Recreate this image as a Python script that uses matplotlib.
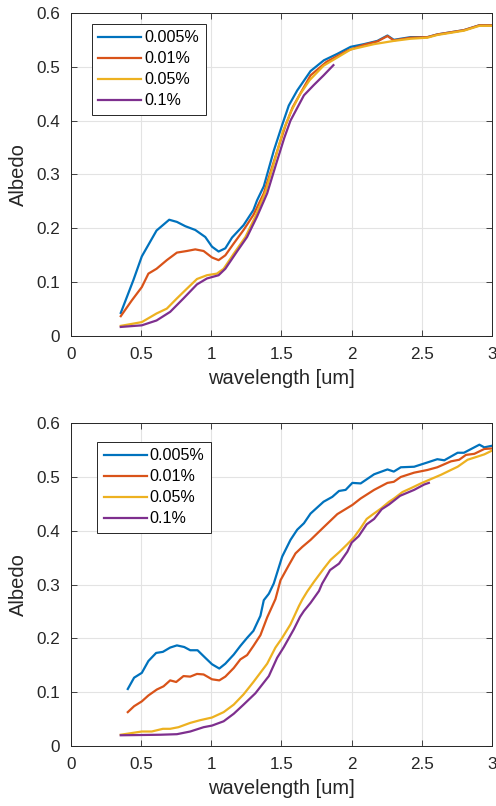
import numpy as np
import matplotlib
matplotlib.use("Agg")
import matplotlib.pyplot as plt

plt.rcParams['font.family'] = ['Liberation Sans', 'DejaVu Sans']

labels = ['0.005%', '0.01%', '0.05%', '0.1%']
colors = ['#0072BD', '#D95319', '#EDB120', '#7E2F8E']

# ---------------------------------------------------------
# Top panel data (wavelength [um], albedo)
# ---------------------------------------------------------
top_blue_x = [0.355, 0.445, 0.505, 0.61, 0.70, 0.755, 0.815, 0.886, 0.957, 1.005, 1.052, 1.10,
              1.148, 1.23, 1.30, 1.326, 1.374, 1.445, 1.505, 1.552, 1.612, 1.707, 1.802, 1.898,
              1.993, 2.088, 2.183, 2.255, 2.30, 2.42, 2.54, 2.61, 2.80, 2.91, 3.0]
top_blue_y = [0.043, 0.104, 0.148, 0.196, 0.216, 0.212, 0.204, 0.197, 0.184, 0.166, 0.157, 0.163,
              0.183, 0.206, 0.234, 0.252, 0.278, 0.344, 0.392, 0.428, 0.456, 0.492, 0.512, 0.524,
              0.537, 0.542, 0.548, 0.558, 0.550, 0.555, 0.555, 0.560, 0.568, 0.577, 0.577]

top_orange_x = [0.355, 0.433, 0.505, 0.552, 0.61, 0.683, 0.755, 0.826, 0.886, 0.945, 1.005, 1.052,
                1.10, 1.16, 1.23, 1.30, 1.374, 1.47, 1.53, 1.58, 1.64, 1.707, 1.82, 1.97,
                2.09, 2.183, 2.255, 2.30, 2.42, 2.54, 2.61, 2.80, 2.91, 3.0]
top_orange_y = [0.037, 0.066, 0.091, 0.116, 0.125, 0.141, 0.155, 0.158, 0.161, 0.158, 0.146, 0.141,
                0.150, 0.172, 0.197, 0.225, 0.265, 0.344, 0.392, 0.425, 0.453, 0.484, 0.509, 0.530,
                0.541, 0.547, 0.557, 0.549, 0.554, 0.555, 0.560, 0.568, 0.577, 0.577]

top_yellow_x = [0.355, 0.505, 0.61, 0.683, 0.755, 0.826, 0.898, 0.969, 1.04, 1.088, 1.16, 1.243,
                1.314, 1.386, 1.45, 1.51, 1.57, 1.63, 1.70, 1.80, 1.993, 2.16, 2.30, 2.42,
                2.54, 2.61, 2.80, 2.91, 3.0]
top_yellow_y = [0.019, 0.026, 0.042, 0.051, 0.070, 0.088, 0.106, 0.113, 0.116, 0.125, 0.153, 0.184,
                0.222, 0.268, 0.325, 0.380, 0.418, 0.448, 0.475, 0.502, 0.532, 0.542, 0.548, 0.552,
                0.554, 0.559, 0.567, 0.576, 0.576]

top_purple_x = [0.355, 0.505, 0.61, 0.707, 0.802, 0.898, 0.969, 1.052, 1.10, 1.183, 1.255, 1.326,
                1.398, 1.46, 1.52, 1.564, 1.66, 1.73, 1.80, 1.87]
top_purple_y = [0.017, 0.020, 0.029, 0.045, 0.070, 0.096, 0.107, 0.113, 0.125, 0.157, 0.184, 0.222,
                0.265, 0.318, 0.368, 0.400, 0.447, 0.466, 0.484, 0.503]

# ---------------------------------------------------------
# Bottom panel data
# ---------------------------------------------------------
bot_blue_x = [0.405, 0.45, 0.505, 0.552, 0.607, 0.655, 0.707, 0.755, 0.807, 0.85, 0.902, 0.957,
              1.005, 1.057, 1.10, 1.16, 1.207, 1.255, 1.30, 1.35, 1.374, 1.41, 1.445, 1.505,
              1.564, 1.612, 1.66, 1.707, 1.80, 1.862, 1.91, 1.957, 2.005, 2.064, 2.16, 2.255,
              2.30, 2.35, 2.445, 2.54, 2.61, 2.66, 2.755, 2.80, 2.91, 2.945, 3.0]
bot_blue_y = [0.106, 0.127, 0.136, 0.158, 0.173, 0.175, 0.183, 0.187, 0.184, 0.178, 0.178, 0.164,
              0.152, 0.144, 0.153, 0.170, 0.186, 0.201, 0.214, 0.242, 0.271, 0.283, 0.302, 0.352,
              0.383, 0.402, 0.414, 0.432, 0.454, 0.463, 0.474, 0.476, 0.489, 0.488, 0.505, 0.514,
              0.510, 0.518, 0.519, 0.527, 0.533, 0.531, 0.545, 0.545, 0.560, 0.555, 0.558]

bot_orange_x = [0.405, 0.45, 0.505, 0.552, 0.612, 0.66, 0.707, 0.75, 0.802, 0.85, 0.898, 0.945,
                1.005, 1.057, 1.10, 1.16, 1.207, 1.255, 1.30, 1.35, 1.398, 1.457, 1.493, 1.552,
                1.60, 1.648, 1.707, 1.802, 1.898, 2.005, 2.064, 2.16, 2.255, 2.30, 2.35, 2.445,
                2.54, 2.61, 2.707, 2.766, 2.814, 2.874, 2.945, 3.0]
bot_orange_y = [0.063, 0.074, 0.083, 0.094, 0.105, 0.111, 0.122, 0.119, 0.130, 0.129, 0.134, 0.133,
                0.124, 0.122, 0.129, 0.145, 0.161, 0.169, 0.186, 0.206, 0.239, 0.273, 0.308, 0.336,
                0.358, 0.370, 0.383, 0.407, 0.431, 0.448, 0.460, 0.476, 0.489, 0.491, 0.500, 0.508,
                0.513, 0.518, 0.529, 0.532, 0.541, 0.543, 0.552, 0.553]

bot_yellow_x = [0.355, 0.505, 0.576, 0.655, 0.707, 0.766, 0.85, 0.92, 1.005, 1.088, 1.16, 1.23,
                1.30, 1.398, 1.457, 1.505, 1.564, 1.624, 1.648, 1.683, 1.731, 1.802, 1.85, 1.91,
                1.969, 2.017, 2.064, 2.107, 2.148, 2.207, 2.267, 2.302, 2.362, 2.421, 2.493, 2.564,
                2.636, 2.707, 2.755, 2.826, 2.898, 2.945, 3.0]
bot_yellow_y = [0.021, 0.027, 0.027, 0.032, 0.032, 0.035, 0.043, 0.048, 0.053, 0.063, 0.077, 0.096,
                0.119, 0.153, 0.183, 0.201, 0.226, 0.260, 0.272, 0.287, 0.305, 0.330, 0.346, 0.360,
                0.375, 0.388, 0.405, 0.422, 0.430, 0.441, 0.454, 0.460, 0.472, 0.479, 0.488, 0.496,
                0.504, 0.513, 0.519, 0.532, 0.538, 0.542, 0.549]

bot_purple_x = [0.355, 0.505, 0.636, 0.755, 0.85, 0.945, 1.005, 1.088, 1.16, 1.23, 1.314, 1.41,
                1.469, 1.517, 1.588, 1.632, 1.66, 1.707, 1.767, 1.79, 1.846, 1.91, 1.969, 2.0,
                2.05, 2.107, 2.16, 2.214, 2.267, 2.345, 2.445, 2.517, 2.55]
bot_purple_y = [0.020, 0.0205, 0.021, 0.022, 0.027, 0.035, 0.038, 0.046, 0.060, 0.077, 0.098, 0.130,
                0.164, 0.184, 0.217, 0.240, 0.251, 0.266, 0.288, 0.302, 0.327, 0.339, 0.361, 0.378,
                0.390, 0.412, 0.422, 0.440, 0.449, 0.465, 0.476, 0.486, 0.489]


def style_axes(ax):
    ax.set_xlim(0, 3)
    ax.set_ylim(0, 0.6)
    ax.set_xticks(np.arange(0, 3.01, 0.5))
    ax.set_xticklabels(['0', '0.5', '1', '1.5', '2', '2.5', '3'])
    ax.set_yticks(np.arange(0, 0.61, 0.1))
    ax.set_yticklabels(['0', '0.1', '0.2', '0.3', '0.4', '0.5', '0.6'])
    ax.grid(True, color='#e3e3e3', lw=0.8)
    ax.set_axisbelow(True)
    ax.tick_params(direction='in', top=True, right=True, length=4,
                   colors='#262626', labelsize=12.3, width=0.6, pad=8)
    for s in ax.spines.values():
        s.set_color('#262626')
        s.set_linewidth(0.7)
    ax.set_xlabel('wavelength [um]', fontsize=14.5, color='#262626', labelpad=5)
    ax.set_ylabel('Albedo', fontsize=14.5, color='#262626', labelpad=5.5)


fig = plt.figure(figsize=(4.96, 8.06), dpi=100)
ax1 = fig.add_axes([0.143, 0.583, 0.849, 0.401])
ax2 = fig.add_axes([0.143, 0.0744, 0.849, 0.4006])

top = [(top_blue_x, top_blue_y), (top_orange_x, top_orange_y),
       (top_yellow_x, top_yellow_y), (top_purple_x, top_purple_y)]
bot = [(bot_blue_x, bot_blue_y), (bot_orange_x, bot_orange_y),
       (bot_yellow_x, bot_yellow_y), (bot_purple_x, bot_purple_y)]

for ax, series, anchor in [(ax1, top, (0.05, 0.966)), (ax2, bot, (0.063, 0.942))]:
    for (x, y), c, lab in zip(series, colors, labels):
        ax.plot(x, y, color=c, lw=1.6, label=lab)
    style_axes(ax)
    leg = ax.legend(loc='upper left', bbox_to_anchor=anchor, borderaxespad=0,
                    fontsize=11.6, handlelength=2.65, handletextpad=0.2,
                    labelspacing=0.37, borderpad=0.4, fancybox=False,
                    framealpha=1, edgecolor='#262626')
    leg.get_frame().set_linewidth(0.7)

fig.savefig('out.png', dpi=100)
